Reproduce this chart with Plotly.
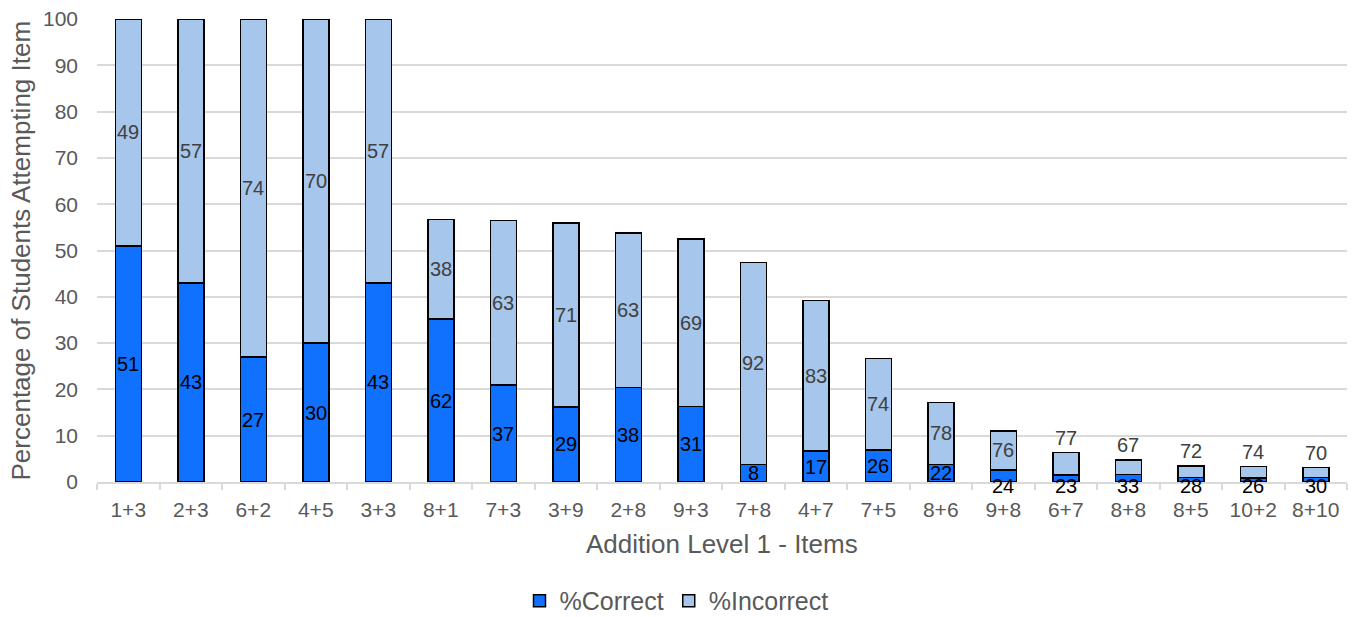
import plotly.graph_objects as go

# Addition items, in the order they appear on the test
items = ["1+3", "2+3", "6+2", "4+5", "3+3", "8+1", "7+3", "3+9", "2+8", "9+3",
         "7+8", "4+7", "7+5", "8+6", "9+8", "6+7", "8+8", "8+5", "10+2", "8+10"]

# Share of all students who attempted each item (bar height)
attempted = [100, 100, 100, 100, 100, 56.7, 56.5, 55.9, 53.8, 52.5,
             47.4, 39.2, 26.7, 17.2, 11.0, 6.4, 4.8, 3.5, 3.3, 3.1]

# Of those attempting, percent answering correctly / incorrectly
pct_correct = [51, 43, 27, 30, 43, 62, 37, 29, 38, 31,
               8, 17, 26, 22, 24, 23, 33, 28, 26, 30]
pct_incorrect = [49, 57, 74, 70, 57, 38, 63, 71, 63, 69,
                 92, 83, 74, 78, 76, 77, 67, 72, 74, 70]

# Split each attempted bar into its correct and incorrect parts
correct_h = [a * c / 100 for a, c in zip(attempted, pct_correct)]
incorrect_h = [a - c for a, c in zip(attempted, correct_h)]

FONT = "Arial, Liberation Sans, sans-serif"
C_CORRECT = "#1071FE"
C_INCORRECT = "#A7C6EC"
GRID = "#D9D9D9"
TXT = "#595959"
LBL = 20

fig = go.Figure()
fig.add_trace(go.Bar(
    x=items, y=correct_h, name="%Correct",
    marker=dict(color=C_CORRECT, line=dict(color="black", width=1.5)),
    hoverinfo="skip",
))
fig.add_trace(go.Bar(
    x=items, y=incorrect_h, name="%Incorrect",
    marker=dict(color=C_INCORRECT, line=dict(color="black", width=1.5)),
    hoverinfo="skip",
))

# Value labels: centred in a segment when it is tall enough,
# otherwise pushed below the axis (correct) or above the bar (incorrect)
annotations = []
for i, it in enumerate(items):
    ch, ih = correct_h[i], incorrect_h[i]
    if ch >= 3:
        annotations.append(dict(x=it, y=ch / 2, text=str(pct_correct[i]),
                                yanchor="middle", yshift=0,
                                font=dict(color="black", size=LBL, family=FONT)))
    else:
        annotations.append(dict(x=it, y=0, text=str(pct_correct[i]),
                                yanchor="middle", yshift=-4,
                                font=dict(color="black", size=LBL, family=FONT)))
    if ih >= 6:
        annotations.append(dict(x=it, y=ch + ih / 2, text=str(pct_incorrect[i]),
                                yanchor="middle", yshift=0,
                                font=dict(color="#404040", size=LBL, family=FONT)))
    else:
        annotations.append(dict(x=it, y=ch + ih, text=str(pct_incorrect[i]),
                                yanchor="middle", yshift=14.5,
                                font=dict(color="#404040", size=LBL, family=FONT)))
for a in annotations:
    a.update(xref="x", yref="y", showarrow=False, xanchor="center", borderpad=0)

# Axis titles
annotations.append(dict(text="Addition Level 1 - Items", xref="paper", yref="paper",
                        x=0.5, y=-0.134, xanchor="center", yanchor="middle",
                        showarrow=False, font=dict(size=26, color=TXT, family=FONT)))
annotations.append(dict(text="Percentage of Students Attempting Item",
                        xref="paper", yref="paper", x=-0.0616, y=0.5,
                        xanchor="center", yanchor="middle", textangle=-90,
                        showarrow=False, font=dict(size=26, color=TXT, family=FONT)))

fig.update_layout(
    barmode="stack",
    bargap=0.584,
    width=1353, height=617,
    margin=dict(l=97, r=6, t=19, b=135),
    paper_bgcolor="white", plot_bgcolor="white",
    font=dict(family=FONT, color=TXT),
    annotations=annotations,
    legend=dict(orientation="h", xref="container", yref="container",
                x=0.5, y=0.026, xanchor="center", yanchor="middle",
                font=dict(size=25, color=TXT, family=FONT),
                itemwidth=30, traceorder="normal"),
)
fig.update_xaxes(
    type="category", showgrid=False, showline=True, linecolor=GRID, linewidth=1.5,
    ticks="outside", tickson="boundaries", ticklen=6, tickcolor=GRID, tickwidth=1.5,
    tickfont=dict(size=21, color=TXT, family=FONT), ticklabelstandoff=8,
)
fig.update_yaxes(
    range=[0, 100], dtick=10, showgrid=True, gridcolor=GRID, gridwidth=1.5,
    zeroline=False, showline=False, ticks="",
    tickfont=dict(size=21, color=TXT, family=FONT), ticklabelstandoff=18,
)

fig.write_html("out.html")
